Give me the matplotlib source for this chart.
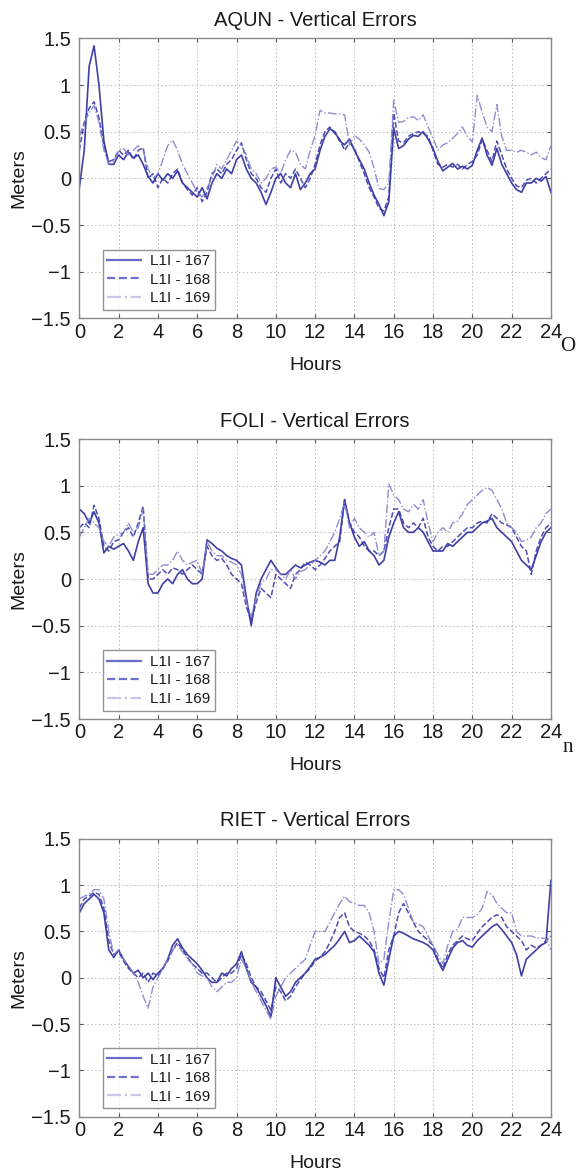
import numpy as np
import matplotlib
matplotlib.use("Agg")
import matplotlib.pyplot as plt
from matplotlib.lines import Line2D

plt.rcParams['font.family'] = ['Liberation Sans', 'DejaVu Sans']

# ---------------- data ----------------
hours = np.linspace(0, 24, 97)  # sampling every 0.25 h

stations = ["AQUN", "FOLI", "RIET"]
series_labels = ["L1I - 167", "L1I - 168", "L1I - 169"]

aqun_167 = [-0.1, 0.3, 1.2, 1.42, 1.0, 0.4, 0.15, 0.15, 0.25, 0.2, 0.28, 0.22, 0.25, 0.15, 0.02, -0.05,
            0.05, -0.02, 0.05, 0.0, 0.08, -0.05, -0.1, -0.15, -0.2, -0.1, -0.22, -0.05, 0.05, 0.0, 0.1, 0.05,
            0.2, 0.25, 0.1, 0.0, -0.05, -0.15, -0.28, -0.15, 0.0, 0.05, -0.05, -0.1, 0.05, -0.12, -0.05, 0.05,
            0.1, 0.3, 0.45, 0.53, 0.5, 0.4, 0.36, 0.42, 0.3, 0.2, 0.1, -0.05, -0.18, -0.28, -0.4, -0.25,
            0.54, 0.32, 0.35, 0.42, 0.46, 0.45, 0.5, 0.42, 0.32, 0.18, 0.08, 0.12, 0.16, 0.1, 0.13, 0.1,
            0.14, 0.3, 0.43, 0.25, 0.14, 0.32, 0.15, 0.05, -0.05, -0.12, -0.15, -0.05, -0.05, 0.0, -0.03, 0.02,
            -0.15]
aqun_168 = [0.3, 0.6, 0.75, 0.82, 0.65, 0.35, 0.18, 0.2, 0.3, 0.25, 0.3, 0.2, 0.3, 0.33, 0.0, 0.05,
            -0.1, 0.0, -0.05, 0.05, 0.1, -0.05, -0.12, -0.18, -0.1, -0.25, -0.15, 0.05, 0.1, 0.05, 0.15, 0.2,
            0.3, 0.38, 0.2, 0.05, 0.0, -0.1, -0.15, 0.0, 0.1, -0.05, 0.05, 0.0, 0.1, 0.0, -0.1, 0.0,
            0.15, 0.36, 0.5, 0.55, 0.48, 0.42, 0.3, 0.38, 0.32, 0.18, 0.05, -0.1, -0.2, -0.32, -0.35, -0.2,
            0.7, 0.4, 0.38, 0.45, 0.48, 0.5, 0.48, 0.45, 0.3, 0.15, 0.12, 0.15, 0.12, 0.15, 0.1, 0.15,
            0.18, 0.25, 0.42, 0.3, 0.18, 0.4, 0.25, 0.1, 0.0, -0.08, -0.1, -0.02, 0.0, -0.05, 0.0, 0.05,
            0.1]
aqun_169 = [0.45, 0.6, 0.7, 0.78, 0.6, 0.3, 0.15, 0.18, 0.3, 0.32, 0.25, 0.3, 0.35, 0.3, 0.1, 0.0,
            0.05, 0.2, 0.35, 0.41, 0.3, 0.15, 0.05, -0.05, -0.15, -0.2, -0.1, 0.0, 0.15, 0.1, 0.2, 0.3,
            0.4, 0.35, 0.25, 0.1, 0.05, -0.05, 0.0, 0.1, 0.12, 0.05, 0.2, 0.3, 0.28, 0.15, 0.1, 0.3,
            0.46, 0.73, 0.7, 0.7, 0.69, 0.69, 0.68, 0.36, 0.46, 0.42, 0.36, 0.28, 0.11, -0.11, -0.12, -0.05,
            0.84, 0.6, 0.61, 0.65, 0.66, 0.62, 0.68, 0.55, 0.43, 0.3, 0.36, 0.38, 0.43, 0.48, 0.55, 0.45,
            0.39, 0.89, 0.71, 0.55, 0.5, 0.79, 0.45, 0.3, 0.3, 0.28, 0.3, 0.28, 0.25, 0.28, 0.22, 0.2,
            0.35]

foli_167 = [0.75, 0.7, 0.6, 0.72, 0.6, 0.28, 0.35, 0.32, 0.35, 0.38, 0.3, 0.2, 0.4, 0.55, -0.05, -0.15,
            -0.15, -0.05, 0.0, -0.05, 0.05, 0.1, 0.0, -0.05, -0.05, 0.0, 0.42, 0.38, 0.33, 0.3, 0.25, 0.22,
            0.2, 0.15, -0.2, -0.5, -0.15, 0.0, 0.1, 0.2, 0.12, 0.05, 0.05, 0.1, 0.15, 0.12, 0.15, 0.18,
            0.2, 0.18, 0.15, 0.2, 0.2, 0.45, 0.85, 0.6, 0.45, 0.35, 0.4, 0.3, 0.25, 0.15, 0.2, 0.45,
            0.6, 0.72, 0.55, 0.5, 0.5, 0.55, 0.5, 0.4, 0.3, 0.3, 0.3, 0.38, 0.35, 0.4, 0.45, 0.5,
            0.5, 0.55, 0.6, 0.62, 0.65, 0.55, 0.5, 0.45, 0.4, 0.3, 0.2, 0.15, 0.1, 0.25, 0.4, 0.5,
            0.55]
foli_168 = [0.55, 0.6, 0.55, 0.79, 0.65, 0.35, 0.3, 0.4, 0.42, 0.5, 0.55, 0.45, 0.6, 0.78, 0.0, 0.0,
            0.05, 0.1, 0.05, 0.12, 0.1, 0.05, 0.1, 0.15, 0.1, 0.05, 0.35, 0.25, 0.2, 0.22, 0.15, 0.05,
            0.0, -0.05, -0.3, -0.45, -0.25, -0.1, -0.15, -0.2, 0.05, 0.0, -0.05, -0.1, 0.05, 0.1, 0.18, 0.15,
            0.1, 0.15, 0.22, 0.3, 0.35, 0.4, 0.85, 0.6, 0.5, 0.45, 0.35, 0.3, 0.3, 0.25, 0.3, 0.55,
            0.75, 0.75, 0.6, 0.55, 0.6, 0.55, 0.65, 0.45, 0.35, 0.3, 0.35, 0.35, 0.4, 0.45, 0.5, 0.55,
            0.55, 0.6, 0.62, 0.6, 0.7, 0.65, 0.6, 0.58, 0.55, 0.45, 0.35, 0.3, 0.05, 0.3, 0.45, 0.55,
            0.6]
foli_169 = [0.45, 0.55, 0.65, 0.6, 0.55, 0.4, 0.35, 0.45, 0.48, 0.5, 0.6, 0.5, 0.55, 0.75, 0.05, 0.05,
            0.1, 0.15, 0.15, 0.2, 0.3, 0.2, 0.15, 0.18, 0.2, 0.05, 0.4, 0.3, 0.25, 0.25, 0.2, 0.18,
            0.15, 0.05, -0.25, -0.4, -0.2, -0.05, 0.0, 0.1, 0.1, 0.05, 0.0, 0.1, 0.0, 0.08, 0.1, 0.15,
            0.2, 0.25, 0.3, 0.4, 0.5, 0.65, 0.82, 0.55, 0.65, 0.55, 0.5, 0.45, 0.5, 0.25, 0.3, 1.02,
            0.9, 0.85, 0.75, 0.72, 0.8, 0.75, 0.85, 0.6, 0.4, 0.5, 0.55, 0.5, 0.6, 0.62, 0.7, 0.8,
            0.85, 0.9, 0.95, 0.98, 0.95, 0.85, 0.75, 0.6, 0.55, 0.5, 0.4, 0.42, 0.45, 0.55, 0.6, 0.7,
            0.75]

riet_167 = [0.7, 0.8, 0.85, 0.9, 0.85, 0.7, 0.3, 0.22, 0.3, 0.2, 0.12, 0.05, 0.08, 0.0, 0.05, -0.02,
            0.05, 0.1, 0.2, 0.35, 0.42, 0.32, 0.25, 0.2, 0.15, 0.08, 0.0, -0.05, -0.05, 0.05, 0.02, 0.1,
            0.15, 0.28, 0.1, -0.05, -0.1, -0.2, -0.3, -0.42, 0.0, -0.1, -0.2, -0.15, -0.05, 0.0, 0.05, 0.12,
            0.2, 0.22, 0.25, 0.3, 0.35, 0.42, 0.5, 0.38, 0.4, 0.45, 0.4, 0.35, 0.28, 0.05, -0.08, 0.2,
            0.45, 0.5, 0.48, 0.45, 0.42, 0.4, 0.38, 0.35, 0.3, 0.18, 0.08, 0.2, 0.32, 0.38, 0.4, 0.35,
            0.33, 0.4, 0.45, 0.5, 0.55, 0.58, 0.52, 0.45, 0.38, 0.25, 0.02, 0.2, 0.25, 0.3, 0.35, 0.38,
            1.05]
riet_168 = [0.75, 0.85, 0.88, 0.92, 0.9, 0.75, 0.4, 0.25, 0.28, 0.18, 0.1, 0.05, 0.0, 0.05, -0.05, 0.05,
            0.02, 0.1, 0.18, 0.3, 0.38, 0.3, 0.22, 0.15, 0.1, 0.05, 0.05, 0.0, -0.05, 0.0, 0.05, 0.05,
            0.1, 0.25, 0.15, 0.0, -0.1, -0.15, -0.25, -0.35, -0.1, -0.15, -0.25, -0.2, -0.1, -0.02, 0.05, 0.1,
            0.18, 0.22, 0.28, 0.38, 0.5, 0.65, 0.7, 0.55, 0.5, 0.48, 0.45, 0.4, 0.3, 0.1, 0.0, 0.3,
            0.45, 0.7, 0.8, 0.7, 0.6, 0.5, 0.45, 0.4, 0.35, 0.2, 0.1, 0.25, 0.35, 0.4, 0.45, 0.42,
            0.4, 0.48, 0.55, 0.6, 0.65, 0.68, 0.65, 0.55, 0.5, 0.45, 0.4, 0.3, 0.35, 0.32, 0.35, 0.4,
            0.45]
riet_169 = [0.85, 0.88, 0.9, 0.95, 0.95, 0.85, 0.5, 0.25, 0.3, 0.2, 0.12, 0.05, -0.05, -0.2, -0.33, -0.1,
            0.0, 0.1, 0.2, 0.3, 0.35, 0.28, 0.2, 0.15, 0.05, 0.02, 0.0, -0.1, -0.15, -0.1, -0.05, -0.05,
            0.0, 0.2, 0.1, -0.05, -0.15, -0.25, -0.35, -0.45, -0.2, -0.1, 0.0, 0.05, 0.1, 0.15, 0.2, 0.35,
            0.5, 0.5, 0.5, 0.6, 0.7, 0.8, 0.88, 0.82, 0.8, 0.78, 0.78, 0.7, 0.5, 0.15, 0.2, 0.6,
            0.95, 0.95, 0.9, 0.75, 0.6, 0.58, 0.55, 0.45, 0.35, 0.25, 0.15, 0.35, 0.5, 0.52, 0.65, 0.65,
            0.65, 0.68, 0.75, 0.93, 0.9, 0.8, 0.75, 0.7, 0.7, 0.5, 0.45, 0.45, 0.45, 0.43, 0.43, 0.42,
            0.3]

panel_data = [
    [aqun_167, aqun_168, aqun_169],
    [foli_167, foli_168, foli_169],
    [riet_167, riet_168, riet_169],
]
x_ticks = [0, 2, 4, 6, 8, 10, 12, 14, 16, 18, 20, 22, 24]
y_ticks = [-1.5, -1, -0.5, 0, 0.5, 1, 1.5]
y_tick_labels = ["\u22121.5", "\u22121", "\u22120.5", "0", "0.5", "1", "1.5"]
stray_marks = ["O", "n", None]

# ---------------- styling ----------------
line_colors = ["#2a2a9c", "#3a3aac", "#8282cc"]
legend_colors = ["#6a6acc", "#7070d0", "#c8c8ea"]
line_styles = ["-", "--", "-."]
line_widths = [1.2, 1.1, 1.0]
text_color = "#1a1a1a"
spine_color = "#8a8a8a"

fig = plt.figure(figsize=(5.79, 11.76), dpi=100)
left, width = 0.137, 0.8145
bottoms = [0.7293, 0.3886, 0.0504]
heights = [0.2381, 0.2381, 0.2364]

for i, st in enumerate(stations):
    ax = fig.add_axes([left, bottoms[i], width, heights[i]])
    for j in range(3):
        ax.plot(hours, panel_data[i][j], color=line_colors[j], ls=line_styles[j],
                lw=line_widths[j], alpha=0.9)
    ax.set_xlim(0, 24)
    ax.set_ylim(-1.5, 1.5)
    ax.set_xticks(x_ticks)
    ax.set_yticks(y_ticks)
    ax.set_yticklabels(y_tick_labels)
    ax.grid(True, ls=(0, (1.5, 2.5)), color="#b8b8b8", lw=0.7)
    ax.tick_params(direction="in", top=True, right=True, length=3, color="#555555",
                   labelsize=14.5, labelcolor=text_color)
    ax.tick_params(axis="y", pad=6)
    ax.tick_params(axis="x", pad=3)
    for s in ax.spines.values():
        s.set_color(spine_color)
        s.set_linewidth(1.0)
    ax.set_title(f"{st} - Vertical Errors", fontsize=14.5, color=text_color, pad=9)
    ax.set_xlabel("Hours", fontsize=14, color=text_color, labelpad=11)
    ax.set_ylabel("Meters", fontsize=14, color=text_color, labelpad=3)
    handles = [Line2D([], [], color=legend_colors[j], ls=line_styles[j], lw=1.6)
               for j in range(3)]
    leg = ax.legend(handles, series_labels, loc="lower left", bbox_to_anchor=(0.05, 0.03),
                    borderaxespad=0, fontsize=11, frameon=True, fancybox=False,
                    edgecolor="#7a7a7a", handlelength=2.2, labelspacing=0.3,
                    borderpad=0.3, handletextpad=0.6)
    leg.get_frame().set_linewidth(1.0)
    for t in leg.get_texts():
        t.set_color(text_color)
    if stray_marks[i]:
        ax.text(1.035, -0.1, stray_marks[i], transform=ax.transAxes, fontsize=15,
                family="Liberation Serif", color=text_color, ha="center", va="center")

fig.savefig("out.png", dpi=100)
